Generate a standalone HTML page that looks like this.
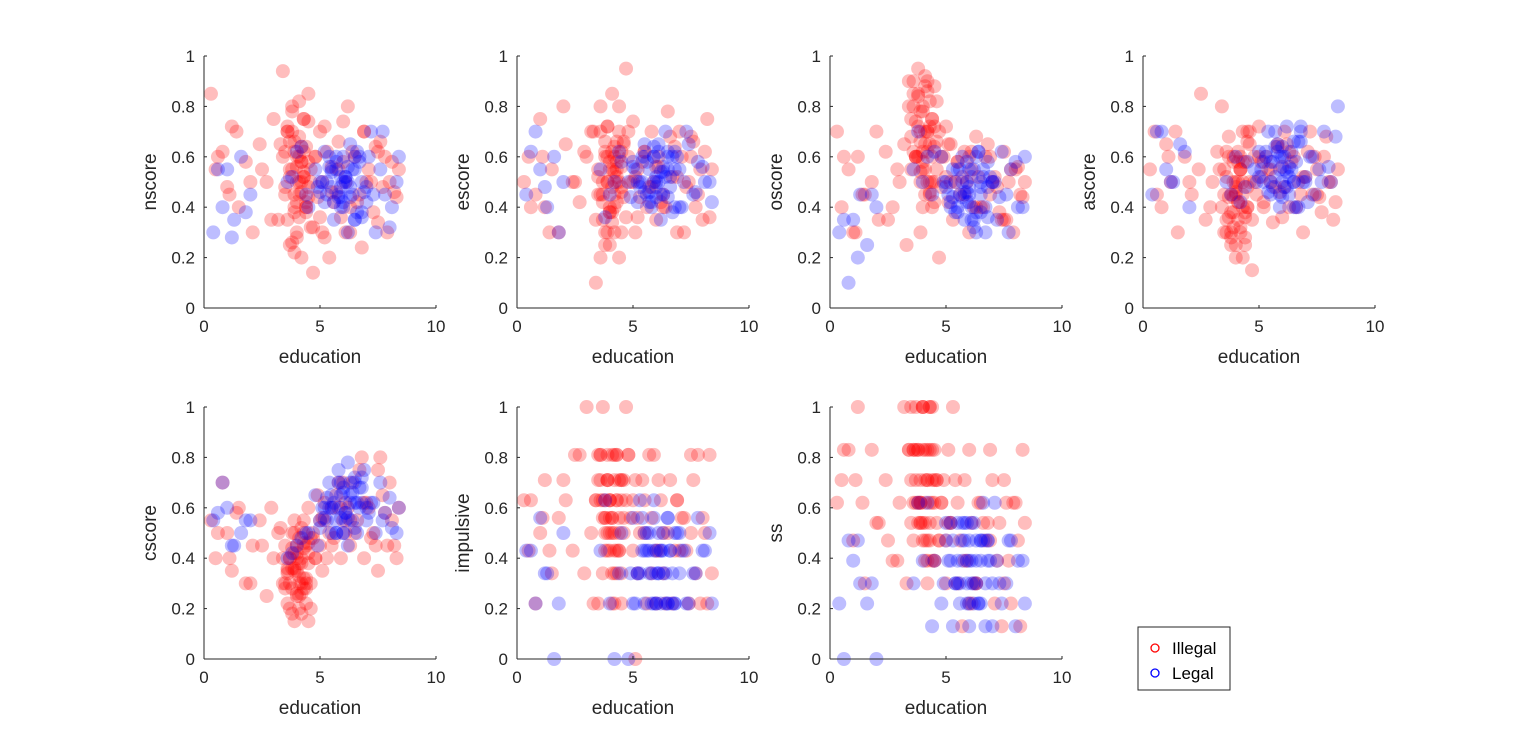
<!DOCTYPE html>
<html><head><meta charset="utf-8"><style>
body{margin:0;background:#fff;width:1522px;height:740px;overflow:hidden;font-family:"Liberation Sans",sans-serif}
svg text{font-family:"Liberation Sans",sans-serif;fill:#262626}
</style></head><body>
<svg id="chart" width="1522" height="740" xmlns="http://www.w3.org/2000/svg"></svg>
<script>
const eduRed=[0.3,0.5,0.8,1.0,1.2,1.5,1.8,2.1,2.4,2.7,3.0,3.2,3.4,3.5,3.6,3.7,3.8,3.8,3.9,3.9,4.0,4.0,4.1,4.1,4.2,4.2,4.3,4.3,4.4,4.4,4.5,4.5,4.6,4.7,4.8,4.9,5.0,5.1,5.2,5.3,5.5,5.6,5.8,5.9,6.0,6.1,6.3,6.5,6.7,6.9,7.1,7.3,7.5,7.7,7.9,8.1,8.3,3.7,4.0,4.2,3.9,4.1,4.3,3.6,4.4,5.4,6.2,6.8,7.4,8.0,
3.5,3.6,3.7,3.8,3.9,4.0,4.1,4.2,4.3,4.4,4.5,4.6,3.5,3.7,3.9,4.1,4.3,4.5,3.6,3.8,4.0,4.2,4.4,4.6,4.8,5.0,5.2,5.5,5.8,6.1,6.4,6.6,6.9,7.2,7.5,7.8,8.2,8.4,0.6,1.1,1.4,2.0,2.5,2.9,3.3,3.8,4.0,4.2,3.9,4.1,4.3,4.5,5.7,6.0,6.3,7.0,7.6,3.4,4.7,5.1];
const eduBlue=[0.4,0.8,1.0,1.3,1.6,2.0,3.6,4.0,4.4,4.8,5.0,5.2,5.4,5.5,5.6,5.7,5.8,5.9,6.0,6.0,6.1,6.2,6.3,6.4,6.5,6.6,6.7,6.8,7.0,7.2,7.4,7.6,7.8,8.1,8.4,5.9,6.1,6.3,5.7,6.5,
5.1,5.3,5.5,5.7,5.9,6.1,6.3,6.5,6.7,6.9,5.2,5.6,6.0,6.4,6.8,7.1,7.3,7.7,8.0,8.3,5.4,5.8,6.2,6.6,4.5,4.9,3.8,0.6,1.2,1.8,5.0,5.5,6.0,6.5,7.0,5.3,5.9,6.2,6.8,4.2];
const nscoreRed=[0.85,0.55,0.62,0.48,0.72,0.4,0.58,0.3,0.65,0.5,0.75,0.35,0.6,0.45,0.7,0.25,0.55,0.8,0.4,0.62,0.5,0.3,0.68,0.45,0.58,0.2,0.75,0.52,0.38,0.64,0.48,0.85,0.55,0.32,0.6,0.44,0.7,0.5,0.28,0.62,0.56,0.42,0.66,0.36,0.74,0.5,0.3,0.6,0.45,0.7,0.55,0.38,0.62,0.48,0.3,0.58,0.44,0.52,0.6,0.46,0.66,0.36,0.54,0.72,0.42,0.2,0.8,0.24,0.64,0.5,
0.62,0.35,0.55,0.7,0.45,0.28,0.6,0.5,0.75,0.4,0.58,0.32,0.48,0.66,0.38,0.82,0.52,0.44,0.7,0.26,0.56,0.64,0.4,0.5,0.6,0.36,0.72,0.46,0.55,0.3,0.62,0.42,0.7,0.5,0.34,0.6,0.46,0.55,0.6,0.45,0.7,0.5,0.55,0.35,0.65,0.78,0.42,0.58,0.22,0.5,0.62,0.74,0.46,0.58,0.4,0.5,0.66,0.94,0.14,0.3];
const nscoreBlue=[0.3,0.4,0.55,0.35,0.6,0.45,0.5,0.62,0.45,0.55,0.5,0.42,0.6,0.48,0.35,0.55,0.45,0.52,0.4,0.6,0.5,0.3,0.65,0.45,0.55,0.38,0.6,0.5,0.42,0.7,0.3,0.55,0.45,0.4,0.6,0.48,0.52,0.44,0.58,0.35,
0.5,0.45,0.55,0.6,0.4,0.52,0.48,0.35,0.58,0.46,0.62,0.42,0.5,0.55,0.38,0.6,0.45,0.7,0.32,0.5,0.56,0.44,0.5,0.62,0.4,0.48,0.52,0.55,0.28,0.38,0.46,0.54,0.42,0.6,0.48,0.5,0.44,0.56,0.36,0.64];
const escoreRed=[0.5,0.6,0.45,0.75,0.4,0.55,0.3,0.65,0.5,0.42,0.6,0.7,0.35,0.55,0.8,0.45,0.25,0.62,0.5,0.72,0.38,0.58,0.48,0.85,0.3,0.64,0.52,0.42,0.7,0.2,0.56,0.46,0.66,0.36,0.6,0.5,0.74,0.3,0.55,0.44,0.62,0.4,0.7,0.5,0.35,0.6,0.45,0.78,0.52,0.3,0.6,0.48,0.68,0.4,0.55,0.62,0.36,0.5,0.4,0.6,0.3,0.55,0.66,0.45,0.5,0.58,0.42,0.64,0.5,0.35,
0.45,0.7,0.35,0.6,0.5,0.25,0.62,0.4,0.55,0.8,0.3,0.65,0.52,0.42,0.72,0.34,0.58,0.48,0.2,0.66,0.38,0.54,0.6,0.44,0.7,0.5,0.36,0.62,0.48,0.56,0.4,0.68,0.52,0.3,0.6,0.45,0.75,0.55,0.4,0.6,0.3,0.8,0.5,0.62,0.7,0.3,0.55,0.45,0.6,0.38,0.5,0.62,0.48,0.56,0.4,0.7,0.66,0.1,0.95,0.52];
const escoreBlue=[0.45,0.7,0.55,0.4,0.6,0.5,0.55,0.45,0.62,0.5,0.58,0.42,0.5,0.65,0.45,0.55,0.4,0.6,0.5,0.48,0.62,0.35,0.56,0.7,0.44,0.52,0.6,0.4,0.55,0.5,0.65,0.45,0.58,0.5,0.42,0.6,0.5,0.54,0.46,0.62,
0.55,0.48,0.6,0.42,0.5,0.65,0.45,0.55,0.38,0.6,0.5,0.58,0.44,0.52,0.62,0.4,0.7,0.46,0.56,0.5,0.6,0.42,0.54,0.48,0.58,0.44,0.36,0.62,0.48,0.3,0.56,0.46,0.52,0.6,0.4,0.5,0.64,0.45,0.55,0.5];
const oscoreRed=[0.7,0.4,0.55,0.3,0.6,0.45,0.5,0.35,0.62,0.4,0.5,0.65,0.8,0.55,0.9,0.6,0.72,0.85,0.5,0.66,0.78,0.58,0.92,0.45,0.7,0.62,0.82,0.5,0.75,0.4,0.64,0.88,0.55,0.7,0.48,0.6,0.52,0.42,0.65,0.35,0.58,0.45,0.62,0.5,0.3,0.55,0.68,0.4,0.6,0.45,0.52,0.38,0.62,0.5,0.3,0.56,0.44,0.74,0.62,0.86,0.54,0.7,0.46,0.8,0.6,0.5,0.4,0.65,0.35,0.55,
0.75,0.85,0.6,0.95,0.7,0.8,0.55,0.9,0.65,0.75,0.5,0.82,0.68,0.6,0.78,0.88,0.45,0.72,0.62,0.84,0.55,0.7,0.5,0.66,0.6,0.72,0.5,0.58,0.45,0.62,0.52,0.4,0.6,0.48,0.35,0.55,0.45,0.5,0.6,0.3,0.45,0.7,0.35,0.55,0.25,0.6,0.4,0.5,0.3,0.65,0.72,0.42,0.52,0.6,0.4,0.5,0.35,0.9,0.2,0.65];
const oscoreBlue=[0.3,0.1,0.35,0.45,0.25,0.4,0.55,0.5,0.45,0.6,0.5,0.42,0.38,0.55,0.45,0.6,0.35,0.5,0.42,0.48,0.4,0.55,0.3,0.62,0.45,0.52,0.4,0.58,0.5,0.35,0.62,0.45,0.55,0.4,0.6,0.46,0.52,0.38,0.44,0.5,
0.45,0.55,0.38,0.5,0.42,0.35,0.6,0.48,0.3,0.52,0.4,0.55,0.45,0.62,0.36,0.5,0.44,0.3,0.58,0.4,0.5,0.46,0.35,0.55,0.62,0.5,0.7,0.35,0.2,0.45,0.48,0.4,0.55,0.38,0.5,0.44,0.58,0.32,0.48,0.6];
const ascoreRed=[0.55,0.7,0.4,0.65,0.5,0.3,0.6,0.45,0.55,0.35,0.5,0.62,0.4,0.55,0.3,0.68,0.45,0.25,0.6,0.38,0.5,0.2,0.62,0.42,0.55,0.32,0.7,0.45,0.28,0.58,0.4,0.66,0.5,0.35,0.6,0.45,0.72,0.52,0.4,0.6,0.5,0.34,0.64,0.46,0.56,0.7,0.4,0.6,0.5,0.3,0.62,0.45,0.55,0.38,0.68,0.5,0.42,0.36,0.48,0.3,0.44,0.58,0.4,0.52,0.25,0.55,0.65,0.45,0.6,0.5,
0.45,0.35,0.6,0.3,0.5,0.25,0.42,0.55,0.2,0.38,0.48,0.65,0.3,0.44,0.58,0.35,0.5,0.4,0.62,0.28,0.46,0.55,0.36,0.7,0.5,0.6,0.42,0.55,0.65,0.48,0.58,0.4,0.52,0.7,0.45,0.6,0.35,0.55,0.45,0.6,0.7,0.5,0.85,0.4,0.55,0.38,0.45,0.6,0.32,0.5,0.58,0.7,0.48,0.36,0.62,0.52,0.44,0.8,0.15,0.58];
const ascoreBlue=[0.45,0.7,0.55,0.5,0.65,0.4,0.5,0.6,0.48,0.55,0.62,0.5,0.7,0.45,0.58,0.52,0.65,0.4,0.6,0.5,0.55,0.72,0.45,0.62,0.5,0.58,0.4,0.66,0.52,0.6,0.45,0.55,0.7,0.5,0.8,0.6,0.48,0.56,0.64,0.5,
0.55,0.62,0.5,0.7,0.45,0.6,0.52,0.4,0.66,0.5,0.58,0.48,0.64,0.55,0.72,0.42,0.6,0.5,0.56,0.68,0.46,0.62,0.54,0.4,0.58,0.5,0.45,0.7,0.5,0.62,0.52,0.58,0.44,0.66,0.5,0.6,0.55,0.48,0.7,0.42];
const cscoreRed=[0.55,0.4,0.7,0.5,0.35,0.6,0.3,0.45,0.55,0.25,0.4,0.5,0.3,0.45,0.35,0.2,0.5,0.28,0.42,0.15,0.35,0.25,0.48,0.3,0.4,0.18,0.55,0.32,0.45,0.22,0.38,0.6,0.3,0.5,0.4,0.65,0.45,0.35,0.55,0.4,0.6,0.48,0.7,0.4,0.55,0.62,0.45,0.5,0.75,0.4,0.6,0.5,0.35,0.65,0.45,0.55,0.4,0.3,0.4,0.26,0.36,0.2,0.44,0.34,0.28,0.5,0.6,0.8,0.45,0.7,
0.3,0.22,0.4,0.18,0.35,0.45,0.25,0.38,0.5,0.3,0.42,0.2,0.28,0.4,0.55,0.33,0.46,0.15,0.36,0.44,0.26,0.52,0.32,0.48,0.4,0.55,0.62,0.45,0.6,0.5,0.7,0.55,0.62,0.48,0.75,0.58,0.45,0.6,0.5,0.4,0.58,0.3,0.45,0.6,0.52,0.36,0.42,0.3,0.5,0.38,0.28,0.46,0.65,0.7,0.55,0.62,0.8,0.4,0.48,0.56];
const cscoreBlue=[0.55,0.7,0.6,0.45,0.5,0.55,0.4,0.45,0.5,0.65,0.55,0.6,0.7,0.5,0.62,0.55,0.75,0.6,0.5,0.68,0.58,0.45,0.65,0.55,0.72,0.5,0.6,0.68,0.55,0.62,0.5,0.7,0.58,0.52,0.6,0.65,0.55,0.7,0.5,0.62,
0.6,0.55,0.65,0.5,0.7,0.58,0.62,0.52,0.68,0.75,0.56,0.6,0.5,0.66,0.72,0.58,0.62,0.55,0.64,0.5,0.6,0.7,0.56,0.62,0.5,0.45,0.42,0.58,0.45,0.55,0.52,0.6,0.66,0.7,0.6,0.64,0.56,0.78,0.62,0.48];
const impulsiveRed=[0.63,0.43,0.22,0.5,0.71,0.34,0.56,0.63,0.43,0.81,1.0,0.5,0.63,0.71,0.81,0.56,0.63,0.43,0.71,0.81,0.5,0.63,0.81,0.56,0.71,0.34,0.63,0.81,0.43,0.56,0.71,0.22,0.5,0.63,0.81,0.56,0.43,0.71,0.34,0.5,0.63,0.22,0.56,0.81,0.43,0.71,0.34,0.5,0.22,0.63,0.56,0.43,0.81,0.34,0.22,0.5,0.81,1.0,0.56,0.43,0.71,0.22,0.34,0.63,0.5,0.71,0.63,0.43,0.22,0.56,
0.81,0.71,0.63,0.56,0.5,0.43,0.34,0.22,0.81,0.71,0.63,0.56,0.22,0.34,0.43,0.5,0.63,0.71,0.81,0.56,0.63,0.5,0.43,0.71,0.81,0.63,0.56,0.5,0.34,0.43,0.22,0.71,0.63,0.56,0.5,0.81,0.22,0.34,0.63,0.56,0.43,0.71,0.81,0.34,0.22,0.5,0.63,0.81,0.71,0.56,0.43,0.34,0.81,0.22,0.5,0.43,0.71,0.63,1.0,0.0];
const impulsiveBlue=[0.43,0.22,0.56,0.34,0.0,0.5,0.43,0.22,0.34,0.0,0.22,0.34,0.43,0.22,0.5,0.34,0.22,0.43,0.34,0.22,0.5,0.43,0.34,0.22,0.56,0.43,0.34,0.22,0.5,0.43,0.22,0.34,0.56,0.43,0.22,0.63,0.34,0.5,0.43,0.22,
0.22,0.34,0.43,0.5,0.22,0.34,0.43,0.56,0.22,0.5,0.34,0.43,0.22,0.34,0.5,0.43,0.22,0.34,0.43,0.5,0.56,0.34,0.22,0.43,0.5,0.34,0.63,0.43,0.34,0.22,0.56,0.5,0.43,0.22,0.34,0.63,0.56,0.43,0.22,0.0];
const ssRed=[0.62,0.71,0.83,0.47,1.0,0.3,0.83,0.54,0.71,0.39,0.62,1.0,0.83,0.71,0.62,1.0,0.83,0.54,0.71,0.62,1.0,0.83,0.62,0.71,0.47,0.83,0.54,1.0,0.62,0.71,0.39,0.83,0.54,0.47,0.62,0.71,0.3,0.83,0.54,1.0,0.62,0.47,0.71,0.39,0.83,0.54,0.3,0.62,0.47,0.83,0.22,0.54,0.71,0.39,0.62,0.47,0.83,0.62,1.0,0.71,0.54,0.83,0.62,0.47,0.39,0.71,0.3,0.54,0.13,0.62,
1.0,0.83,0.71,0.62,0.54,0.47,0.39,0.3,0.83,1.0,0.62,0.71,0.54,0.83,0.62,0.47,1.0,0.71,0.83,0.62,0.54,0.39,0.83,0.71,0.62,0.47,0.54,0.3,0.39,0.22,0.62,0.54,0.47,0.39,0.3,0.22,0.13,0.54,0.83,0.71,0.62,0.54,0.47,0.39,0.3,0.83,1.0,0.71,0.62,0.54,0.47,0.39,0.13,0.22,0.3,0.71,0.62,0.83,0.47,0.54];
const ssBlue=[0.22,0.47,0.39,0.3,0.22,0.0,0.3,0.39,0.13,0.22,0.47,0.39,0.3,0.54,0.22,0.39,0.47,0.3,0.13,0.39,0.54,0.3,0.47,0.22,0.39,0.62,0.3,0.47,0.13,0.39,0.22,0.3,0.47,0.39,0.22,0.54,0.3,0.39,0.47,0.22,
0.39,0.47,0.3,0.54,0.22,0.39,0.3,0.47,0.13,0.39,0.54,0.3,0.47,0.22,0.39,0.62,0.3,0.47,0.13,0.39,0.3,0.54,0.22,0.47,0.39,0.3,0.62,0.0,0.47,0.3,0.54,0.39,0.22,0.47,0.3,0.13,0.39,0.54,0.47,0.62];
const yTicks=[0,0.2,0.4,0.6,0.8,1];
const xTicks=[0,5,10];

const panels=[
 {name:'nscore',r:nscoreRed,b:nscoreBlue,x:204,y:56},
 {name:'escore',r:escoreRed,b:escoreBlue,x:517,y:56},
 {name:'oscore',r:oscoreRed,b:oscoreBlue,x:830,y:56},
 {name:'ascore',r:ascoreRed,b:ascoreBlue,x:1143,y:56},
 {name:'cscore',r:cscoreRed,b:cscoreBlue,x:204,y:407},
 {name:'impulsive',r:impulsiveRed,b:impulsiveBlue,x:517,y:407},
 {name:'ss',r:ssRed,b:ssBlue,x:830,y:407}];
const W=232,H=252,NS='http://www.w3.org/2000/svg';
const svg=document.getElementById('chart');
function mk(t,a,p){const e=document.createElementNS(NS,t);for(const k in a)e.setAttribute(k,a[k]);(p||svg).appendChild(e);return e;}
panels.forEach(p=>{
 const g=mk('g',{});
 
 
 const sx=v=>p.x+v/10*W, sy=v=>p.y+H-v*H;
 const draw=(xs,ys,col,nm)=>{xs.forEach((xv,i)=>{const c=mk('circle',{cx:sx(xv),cy:sy(ys[i]),r:7,fill:col,'fill-opacity':0.26},g);
  
  });};
 draw(eduRed,p.r,'#ff0000','illegal');
 draw(eduBlue,p.b,'#0000ff','legal');
 mk('line',{x1:p.x,y1:p.y,x2:p.x,y2:p.y+H,stroke:'#262626','stroke-width':1},g);
 mk('line',{x1:p.x,y1:p.y+H,x2:p.x+W,y2:p.y+H,stroke:'#262626','stroke-width':1},g);
 yTicks.forEach(t=>{mk('line',{x1:p.x,y1:sy(t),x2:p.x+3,y2:sy(t),stroke:'#262626'},g);
  const tx=mk('text',{x:p.x-9,y:sy(t)+6,'text-anchor':'end','font-size':17},g);tx.textContent=t;
  });
 xTicks.forEach(t=>{mk('line',{x1:sx(t),y1:p.y+H,x2:sx(t),y2:p.y+H-3,stroke:'#262626'},g);
  const tx=mk('text',{x:sx(t),y:p.y+H+24,'text-anchor':'middle','font-size':17},g);tx.textContent=t;
  });
 const xl=mk('text',{x:p.x+W/2,y:p.y+H+55,'text-anchor':'middle','font-size':19},g);xl.textContent='education';
 
 const yl=mk('text',{x:0,y:0,'text-anchor':'middle','font-size':19,transform:`translate(${p.x-48},${p.y+H/2}) rotate(-90)`},g);yl.textContent=p.name;
 
});
const lg=mk('g',{});


mk('rect',{x:1138,y:627,width:92,height:63,fill:'#fff',stroke:'#262626','stroke-width':1},lg);
[['Illegal','#ff0000',648],['Legal','#0000ff',673]].forEach(([t,c,y])=>{
 mk('circle',{cx:1155,cy:y,r:4,fill:'none',stroke:c,'stroke-width':1.3},lg);
 const tx=mk('text',{x:1172,y:y+6,'font-size':17},lg);tx.textContent=t;tx.style.fill='#000';
 
});
</script>
</body></html>
